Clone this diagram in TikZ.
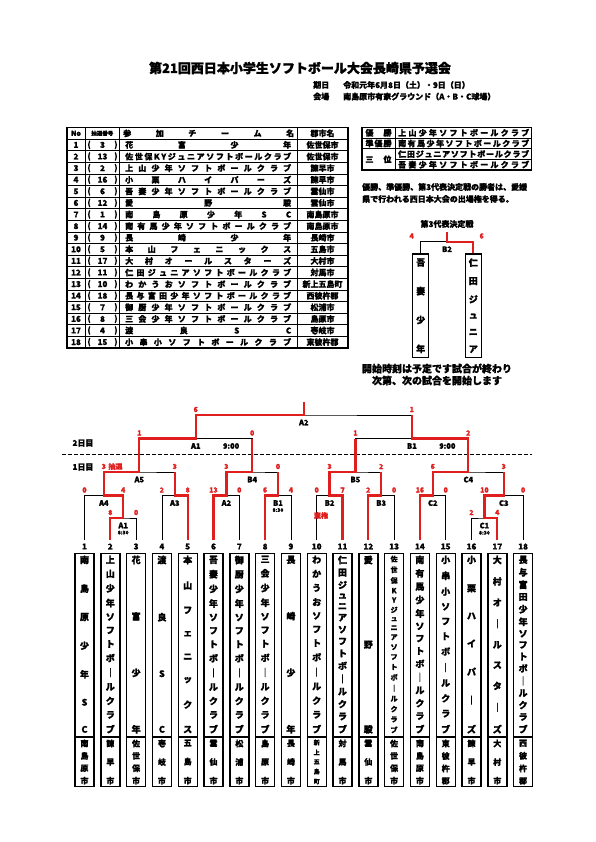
\documentclass[tikz,border=0pt]{standalone}
\usepackage{fontspec}
\setmainfont{Noto Sans CJK JP}[BoldFeatures={FakeBold=1.3}]
\usetikzlibrary{positioning, calc}
\definecolor{win-red}{RGB}{224,30,30}

% spread the characters of a name over a fixed width / height
\newcommand\hspreadtxt[2]{\hbox to #1{\expandafter\hsprfirst#2\relax}}
\def\hsprfirst#1{#1\hsprnext}
\def\hsprnext#1{\ifx\relax#1\else\hfill#1\expandafter\hsprnext\fi}
\newcommand\vspreadtxt[2]{\vbox to #1{\offinterlineskip\expandafter\vsprfirst#2\relax}}
\def\vsprfirst#1{\hbox to 1.2em{\hss#1\hss}\vsprnext}
\def\vsprnext#1{\ifx\relax#1\else\vfill\hbox to 1.2em{\hss#1\hss}\expandafter\vsprnext\fi}

\begin{document}
\begin{tikzpicture}[x=1pt, y=-1pt,
    win/.style={draw=win-red, line width=2.3pt},
    loss/.style={draw=black, line width=0.8pt},
    score/.style={text=win-red, font=\bfseries\fontsize{7}{7}\selectfont, inner sep=0pt},
    matchlbl/.style={font=\bfseries\fontsize{7.5}{8}\selectfont, inner sep=0pt},
    timelbl/.style={font=\bfseries\fontsize{5}{5}\selectfont, inner sep=0pt},
    numlbl/.style={font=\bfseries\fontsize{8}{8}\selectfont, inner sep=0pt},
    head/.style={font=\bfseries\fontsize{8}{8}\selectfont, inner sep=0pt},
    cell/.style={font=\bfseries\fontsize{8}{8}\selectfont, inner sep=0pt},
    teambox/.style={draw, line width=1.4pt, minimum width=19pt, minimum height=233pt, inner sep=0pt, anchor=north},
    thirdbox/.style={draw, line width=1.4pt, minimum width=16pt, minimum height=103.4pt, inner sep=0pt, anchor=north, font=\bfseries\fontsize{9}{9}\selectfont},
    boxname/.style={font=\bfseries\fontsize{9}{9}\selectfont, inner sep=0pt, anchor=north},
    boxcity/.style={font=\bfseries\fontsize{8}{8}\selectfont, inner sep=0pt, anchor=north}]

    \fill[white] (0,0) rectangle (595,842);

    % Title
    \node[font=\bfseries\fontsize{13}{13}\selectfont, inner sep=0pt] (title) at (300,68) {第21回西日本小学生ソフトボール大会長崎県予選会};
    \node[head, anchor=west] (dateh) at (313,85) {期日};
    \node[head, anchor=west] (date) at (343,85) {令和元年6月8日（土）・9日（日）};
    \node[head, anchor=west] (placeh) at (313,96.5) {会場};
    \node[head, anchor=west] (place) at (343,96.5) {南島原市有家グラウンド（A・B・C球場）};

    % Entry table
    \draw[line width=1.2pt] (67,127.5) rectangle (348,347.9);
    \foreach \r in {1,...,18} \draw[line width=0.7pt] (67,{127.5+11.6*\r}) -- (348,{127.5+11.6*\r});
    \foreach \cx in {85,119.5,297} \draw[line width=0.7pt] (\cx,127.5) -- (\cx,347.9);
    \node[cell, font=\bfseries\fontsize{7}{7}\selectfont] (hno) at (76,133.3) {No};
    \node[cell, font=\bfseries\fontsize{5.5}{5.5}\selectfont] (hdr) at (102.3,133.3) {抽選番号};
    \node[cell, anchor=west] (hnm) at (123,133.3) {\hspreadtxt{171pt}{参加チーム名}};
    \node[cell] (hct) at (322.5,133.3) {郡市名};
    \foreach \dr/\nm/\ct [count=\r] in {3/花富少年/佐世保市, 13/佐世保KYジュニアソフトボールクラブ/佐世保市,
        2/上山少年ソフトボールクラブ/諫早市, 16/小栗ハイパーズ/諫早市, 6/吾妻少年ソフトボールクラブ/雲仙市,
        12/愛野駿/雲仙市, 1/南島原少年SC/南島原市, 14/南有馬少年ソフトボールクラブ/南島原市,
        9/長崎少年/長崎市, 5/本山フェニックス/五島市, 17/大村オールスターズ/大村市,
        11/仁田ジュニアソフトボールクラブ/対馬市, 10/わかうおソフトボールクラブ/新上五島町,
        18/長与富田少年ソフトボールクラブ/西彼杵郡, 7/御厨少年ソフトボールクラブ/松浦市,
        8/三会少年ソフトボールクラブ/島原市, 4/渡良SC/壱岐市, 15/小串小ソフトボールクラブ/東彼杵郡}{
        \pgfmathsetmacro\ry{127.5+11.6*\r+5.8}
        \node[cell] (no\r) at (76,\ry) {\r};
        \node[cell] (ob\r) at (89,\ry) {(};
        \node[cell] (dr\r) at (102.5,\ry) {\dr};
        \node[cell] (cb\r) at (116,\ry) {)};
        \node[cell, anchor=west] (nm\r) at (125,\ry) {\hspreadtxt{166pt}{\nm}};
        \node[cell] (ct\r) at (322.5,\ry) {\ct};
    }

    % Result table
    \draw[line width=1.2pt] (362,127.5) rectangle (531.5,170);
    \draw[line width=0.7pt] (362,138.1) -- (531.5,138.1);
    \draw[line width=0.7pt] (362,148.7) -- (531.5,148.7);
    \draw[line width=0.7pt] (395,159.3) -- (531.5,159.3);
    \draw[line width=0.7pt] (395,127.5) -- (395,170);
    \node[cell] (rk1) at (378.5,132.8) {\hspreadtxt{26pt}{優勝}};
    \node[cell] (rk2) at (378.5,143.4) {\hspreadtxt{26pt}{準優勝}};
    \node[cell] (rk3) at (378.5,159.35) {\hspreadtxt{26pt}{三位}};
    \foreach \nm/\ry [count=\k] in {上山少年ソフトボールクラブ/132.8, 南有馬少年ソフトボールクラブ/143.4,
        仁田ジュニアソフトボールクラブ/154, 吾妻少年ソフトボールクラブ/164.65}
        \node[cell, anchor=west] (rn\k) at (398,\ry) {\hspreadtxt{131pt}{\nm}};
    \node[head, anchor=west] (note1) at (362,187) {優勝、準優勝、第3代表決定戦の勝者は、愛媛};
    \node[head, anchor=west] (note2) at (362,199) {県で行われる西日本大会の出場権を得る。};

    % Third place match
    \node[head] (thirdttl) at (447,224) {第3代表決定戦};
    \coordinate (tB2) at (447,241.7);
    \coordinate (champ3) at (447,231.7);
    \node[thirdbox] (tb1) at (420.7,253.3) {\vspreadtxt{94pt}{吾妻少年}};
    \node[thirdbox] (tb2) at (473.3,253.3) {\vspreadtxt{94pt}{仁田ジュニア}};
    \draw[loss] (tb1.north) |- (tB2) -| (tb2.north);
    \draw[win] (tb2.north) |- (tB2) -- (champ3);
    \node[matchlbl, below=4.5pt of tB2] (ltB2) {B2};
    \node[score] (tsc1) at (411.7,236) {4};
    \node[score] (tsc2) at (481.7,236) {6};
    \node[font=\bfseries\fontsize{10}{10}\selectfont, inner sep=0pt] (start1) at (437,368.5) {開始時刻は予定です試合が終わり};
    \node[font=\bfseries\fontsize{10}{10}\selectfont, inner sep=0pt] (start2) at (437,380.5) {次第、次の試合を開始します};

    % Days
    \node[head] (day2) at (83,443) {2日目};
    \node[head] (day1) at (83,467) {1日目};
    \draw[line width=1pt, dash pattern=on 3.5pt off 2.5pt] (62,454) -- (532,454);

    % Teams
    \foreach \nm/\ct [count=\i] in {南島原少年SC/南島原市, 上山少年ソフトボ｜ルクラブ/諫早市, 花富少年/佐世保市,
        渡良SC/壱岐市, 本山フェニックス/五島市, 吾妻少年ソフトボ｜ルクラブ/雲仙市,
        御厨少年ソフトボ｜ルクラブ/松浦市, 三会少年ソフトボ｜ルクラブ/島原市, 長崎少年/長崎市,
        わかうおソフトボ｜ルクラブ/新上五島町, 仁田ジュニアソフトボ｜ルクラブ/対馬市, 愛野駿/雲仙市,
        佐世保KYジュニアソフトボ｜ルクラブ/佐世保市, 南有馬少年ソフトボ｜ルクラブ/南島原市,
        小串小ソフトボ｜ルクラブ/東彼杵郡, 小栗ハイパ｜ズ/諫早市, 大村オ｜ルスタ｜ズ/大村市,
        長与富田少年ソフトボ｜ルクラブ/西彼杵郡}{
        \pgfmathsetmacro\tx{84.5+25.8*(\i-1)}
        \coordinate (t\i) at (\tx,540);
        \node[numlbl] (n\i) at (\tx,546.5) {\i};
        \node[teambox] (bx\i) at (\tx,553) {};
        \draw[line width=1.4pt] (bx\i.west |- 0,737) -- (bx\i.east |- 0,737);
        \node[boxname] (bn\i) at (\tx,555.5) {\ifnum\i=13 \fontsize{7}{7}\selectfont\fi\vspreadtxt{177pt}{\nm}};
        \node[boxcity] (bc\i) at (\tx,739.5) {\ifnum\i=10 \fontsize{6}{6}\selectfont\fi\vspreadtxt{44pt}{\ct}};
    }

    % Matches
    \coordinate (mA1) at (123.2,518);
    \coordinate (mA4) at (103.85,495.5);
    \coordinate (mA3) at (174.8,495.5);
    \coordinate (mA5) at (139.3,472);
    \coordinate (mA2) at (226.4,495.5);
    \coordinate (mB1) at (278,495.5);
    \coordinate (mB4) at (252.2,472);
    \coordinate (sA1) at (195.75,438.5);
    \coordinate (mB2) at (329.6,495.5);
    \coordinate (mB3) at (381.2,495.5);
    \coordinate (mB5) at (355.4,472);
    \coordinate (mC2) at (432.8,495.5);
    \coordinate (mC1) at (484.4,518);
    \coordinate (mC3) at (503.75,495.5);
    \coordinate (mC4) at (468.3,472);
    \coordinate (sB1) at (411.85,438.5);
    \coordinate (fA2) at (303.8,415);
    \coordinate (champ) at (303.8,402);

    % Bracket lines
    \draw[loss] (t2) |- (mA1) -| (t3);
    \draw[loss] (t1) |- (mA4) -| (mA1);
    \draw[loss] (t4) |- (mA3) -| (t5);
    \draw[loss] (mA4) |- (mA5) -| (mA3);
    \draw[loss] (t6) |- (mA2) -| (t7);
    \draw[loss] (t8) |- (mB1) -| (t9);
    \draw[loss] (mA2) |- (mB4) -| (mB1);
    \draw[loss] (mA5) |- (sA1) -| (mB4);
    \draw[loss] (t10) |- (mB2) -| (t11);
    \draw[loss] (t12) |- (mB3) -| (t13);
    \draw[loss] (mB2) |- (mB5) -| (mB3);
    \draw[loss] (t14) |- (mC2) -| (t15);
    \draw[loss] (t16) |- (mC1) -| (t17);
    \draw[loss] (mC1) |- (mC3) -| (t18);
    \draw[loss] (mC2) |- (mC4) -| (mC3);
    \draw[loss] (mB5) |- (sB1) -| (mC4);
    \draw[loss] (sA1) |- (fA2) -| (sB1);

    % Winners
    \draw[win] (t2) |- (mA1) |- (mA4) |- (mA5) |- (sA1) |- (fA2) -- (champ);
    \draw[win] (t5) |- (mA3) -- (mA3 |- mA5);
    \draw[win] (t6) |- (mA2) |- (mB4) -- (mB4 |- sA1);
    \draw[win] (t8) |- (mB1) -- (mB1 |- mB4);
    \draw[win] (t11) |- (mB2) |- (mB5) -- (mB5 |- sB1);
    \draw[win] (t12) |- (mB3) -- (mB3 |- mB5);
    \draw[win] (t14) |- (mC2) |- (mC4) |- (sB1) -- (sB1 |- fA2);
    \draw[win] (t17) |- (mC1) |- (mC3) -- (mC3 |- mC4);

    % Match names
    \foreach \m/\txt in {mA1/A1, mA4/A4, mA3/A3, mA5/A5, mA2/A2, mB1/B1, mB4/B4, sA1/A1, mB2/B2,
        mB3/B3, mB5/B5, mC2/C2, mC1/C1, mC3/C3, mC4/C4, sB1/B1, fA2/A2}
        \node[matchlbl, below=4.5pt of \m] (l\m) {\txt};
    \foreach \m in {mA1, mB1, mC1}
        \node[timelbl, below=2pt of l\m] (tm\m) {8:30};
    \foreach \m in {sA1, sB1}
        \node[matchlbl, right=22pt of l\m] (tm\m) {9:00};

    % Scores
    \foreach \leg/\m/\s [count=\k] in {t2/mA1/8, t3/mA1/0, t1/mA4/0, mA1/mA4/4, t4/mA3/2, t5/mA3/8,
        mA4/mA5/3, mA3/mA5/3, t6/mA2/13, t7/mA2/0, t8/mB1/6, t9/mB1/4, mA2/mB4/3, mB1/mB4/0,
        mA5/sA1/1, mB4/sA1/0, t10/mB2/0, t11/mB2/7, t12/mB3/2, t13/mB3/0, mB2/mB5/3, mB3/mB5/2,
        t14/mC2/16, t15/mC2/0, t16/mC1/2, t17/mC1/4, mC1/mC3/10, t18/mC3/0, mC2/mC4/6, mC3/mC4/3,
        mB5/sB1/1, mC4/sB1/2, sA1/fA2/6, sB1/fA2/1}
        \node[score] (sc\k) at ($(\leg |- \m)+(0,-5.5)$) {\s};
    \node[score, right=2pt of sc7] (lot) {抽選};
    \node[score] (forfeit) at (321,515.5) {棄権};
\end{tikzpicture}
\end{document}
